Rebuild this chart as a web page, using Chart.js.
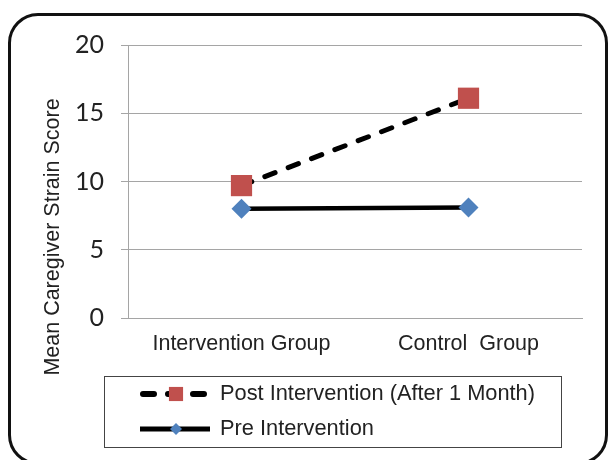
<!DOCTYPE html>
<html>
<head>
<meta charset="utf-8">
<script src="https://cdn.jsdelivr.net/npm/chart.js@4/dist/chart.umd.min.js"></script>
<style>
  html, body { margin: 0; padding: 0; background: #fff; overflow: hidden; }
  #frame {
    position: absolute; left: 8px; top: 13px; width: 600px; height: 452px;
    box-sizing: border-box; border: 3px solid #111; border-radius: 30px;
  }
  #wrap { position: absolute; left: 0; top: 0; width: 609px; height: 460px; }
</style>
</head>
<body>
<div id="frame"></div>
<div id="wrap"><canvas id="myChart" width="609" height="460"></canvas></div>
<script>
var categories = ["Intervention Group", "Control  Group"];
var postValues = [9.7, 16.1];
var preValues = [8.0, 8.1];
var seriesNames = ["Post Intervention (After 1 Month)", "Pre Intervention"];
var yTitle = "Mean Caregiver Strain Score";

var arialFont = "'Liberation Sans', Arial, sans-serif";

// y title and boxed legend drawn by hand, like the office chart
var extrasPlugin = {
  id: "extras",
  afterDraw: function (chart) {
    var ctx = chart.ctx;
    ctx.save();
    ctx.fillStyle = "#222";
    ctx.font = "21.5px " + arialFont;
    ctx.translate(53, 237);
    ctx.rotate(-Math.PI / 2);
    ctx.textAlign = "center";
    ctx.textBaseline = "middle";
    ctx.fillText(yTitle, 0, 0);
    ctx.restore();

    ctx.save();
    ctx.strokeStyle = "#444";
    ctx.lineWidth = 1;
    ctx.strokeRect(104.5, 376.5, 457, 71);
    var rows = [394, 429];
    chart.data.datasets.forEach(function (ds, i) {
      var y = rows[i];
      var dashed = ds.borderDash && ds.borderDash.length;
      ctx.save();
      ctx.strokeStyle = ds.borderColor;
      ctx.lineWidth = dashed ? 6 : 5;
      ctx.lineCap = dashed ? "round" : "butt";
      ctx.setLineDash(dashed ? [11, 14] : []);
      ctx.beginPath();
      ctx.moveTo(dashed ? 143 : 140, y);
      ctx.lineTo(dashed ? 206 : 210, y);
      ctx.stroke();
      ctx.restore();
      ctx.save();
      ctx.fillStyle = ds.pointBackgroundColor;
      Chart.helpers.drawPoint(ctx, {
        pointStyle: ds.pointStyle,
        radius: ds.pointStyle === "rect" ? 10 : 6,
        rotation: 0,
        borderWidth: 0
      }, 176, y);
      ctx.restore();
      ctx.fillStyle = "#222";
      ctx.font = "21.8px " + arialFont;
      ctx.textAlign = "left";
      ctx.textBaseline = "middle";
      ctx.fillText(ds.label, 220, y);
    });
    ctx.restore();
  }
};

var ctx = document.getElementById("myChart").getContext("2d");
var chart = new Chart(ctx, {
  type: "line",
  data: {
    labels: categories,
    datasets: [
      {
        label: seriesNames[0],
        data: postValues,
        borderColor: "#000",
        borderWidth: 5,
        borderDash: [11, 14],
        borderCapStyle: "round",
        pointStyle: "rect",
        pointRadius: 15,
        pointHoverRadius: 15,
        pointBackgroundColor: "#C0504D",
        pointBorderColor: "#C0504D",
        pointBorderWidth: 0
      },
      {
        label: seriesNames[1],
        data: preValues,
        borderColor: "#000",
        borderWidth: 4.5,
        pointStyle: "rectRot",
        pointRadius: 10,
        pointHoverRadius: 10,
        pointBackgroundColor: "#4F81BD",
        pointBorderColor: "#4F81BD",
        pointBorderWidth: 0
      }
    ]
  },
  options: {
    responsive: false,
    animation: false,
    devicePixelRatio: 1,
    layout: { padding: { left: 0, top: 45, right: 27, bottom: 0 } },
    plugins: {
      legend: { display: false },
      tooltip: { enabled: false }
    },
    scales: {
      x: {
        offset: true,
        grid: { display: false, drawTicks: false },
        border: { display: true, color: "#a5a5a5", width: 1 },
        ticks: {
          padding: 13,
          color: "#222",
          font: { family: arialFont, size: 21.5 },
          maxRotation: 0
        },
        afterFit: function (scale) { scale.height = 142; }
      },
      y: {
        min: 0,
        max: 20,
        grid: { color: "#a5a5a5", lineWidth: 1, drawTicks: true, tickLength: 7 },
        border: { display: true, color: "#a5a5a5", width: 1 },
        ticks: {
          stepSize: 5,
          padding: 17,
          color: "#222",
          font: { family: "Lato, 'Open Sans', sans-serif", size: 25 }
        },
        afterFit: function (scale) { scale.width = 128; }
      }
    }
  },
  plugins: [extrasPlugin]
});
</script>
</body>
</html>
